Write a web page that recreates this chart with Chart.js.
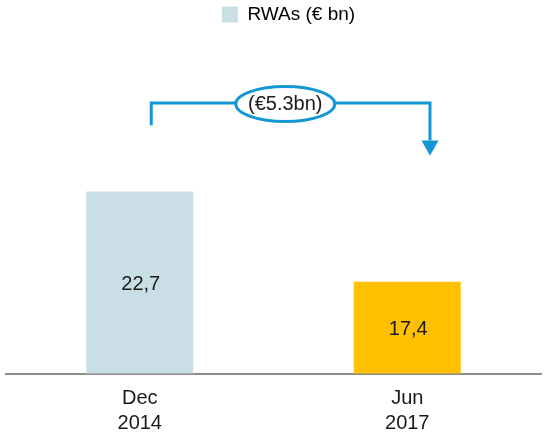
<!DOCTYPE html>
<html>
<head>
<meta charset="utf-8">
<script src="https://cdn.jsdelivr.net/npm/chart.js@4/dist/chart.umd.min.js"></script>
<style>
  html, body { margin: 0; padding: 0; background: #fff; }
  #wrap { width: 544px; height: 436px; }
</style>
</head>
<body>
<div id="wrap"><canvas id="rwaChart"></canvas></div>
<script>
const categories = [['Dec', '2014'], ['Jun', '2017']];
const rwaValues = [22.7, 17.4];
const valueLabels = ['22,7', '17,4'];
const seriesLabel = 'RWAs (€ bn)';
const changeLabel = '(€5.3bn)';

// bracket levels, in axis units (€ bn)
const bracketTop = 27.9;
const bracketLeftEnd = 26.6;
const arrowBase = 25.7;
const arrowTip = 24.8;

const BAR_COLORS = ['#cadee5', '#ffc000'];
const ARROW_BLUE = '#1398d3';
const FONT = "'Liberation Sans', Arial, sans-serif";

// value labels inside the bars
const barValues = {
  id: 'barValues',
  afterDatasetsDraw(chart) {
    const { ctx, chartArea } = chart;
    const meta = chart.getDatasetMeta(0);
    ctx.save();
    ctx.font = `20px ${FONT}`;
    ctx.fillStyle = '#1a1a1a';
    ctx.textAlign = 'center';
    ctx.textBaseline = 'middle';
    meta.data.forEach((bar, i) => {
      const base = Math.min(bar.base, chartArea.bottom);
      ctx.fillText(valueLabels[i], bar.x + 1, (bar.y + base) / 2 + 2);
    });
    ctx.restore();
  },
};

// the "(€5.3bn)" bracket with arrow
const changeBracket = {
  id: 'changeBracket',
  afterDraw(chart) {
    const { ctx } = chart;
    const x = chart.scales.x;
    const y = chart.scales.y;
    const xl = x.getPixelForValue(0.043);
    const xr = x.getPixelForValue(1.085);
    const xm = x.getPixelForValue(0.544);
    const yt = y.getPixelForValue(bracketTop);
    const yl = y.getPixelForValue(bracketLeftEnd);
    const yb = y.getPixelForValue(arrowBase);
    const yp = y.getPixelForValue(arrowTip);

    ctx.save();
    ctx.strokeStyle = ARROW_BLUE;
    ctx.fillStyle = ARROW_BLUE;
    ctx.lineWidth = 3;
    ctx.beginPath();
    ctx.moveTo(xl, yl);
    ctx.lineTo(xl, yt);
    ctx.lineTo(xr, yt);
    ctx.lineTo(xr, yb);
    ctx.stroke();

    ctx.beginPath();
    ctx.moveTo(xr - 8.5, yb);
    ctx.lineTo(xr + 8.5, yb);
    ctx.lineTo(xr, yp);
    ctx.closePath();
    ctx.fill();

    ctx.beginPath();
    ctx.ellipse(xm, yt + 1, 49.5, 17.5, 0, 0, Math.PI * 2);
    ctx.fillStyle = '#fff';
    ctx.fill();
    ctx.stroke();

    ctx.fillStyle = '#1a1a1a';
    ctx.font = `20px ${FONT}`;
    ctx.textAlign = 'center';
    ctx.textBaseline = 'middle';
    ctx.fillText(changeLabel, xm, yt + 1);
    ctx.restore();
  },
};

// nudge the legend a little to the right, as in the source slide
const legendNudge = {
  id: 'legendNudge',
  afterLayout(chart) {
    chart.legend.left += 30;
  },
};

const chart = new Chart(document.getElementById('rwaChart'), {
  type: 'bar',
  data: {
    labels: categories,
    datasets: [
      {
        label: seriesLabel,
        data: rwaValues,
        backgroundColor: BAR_COLORS,
        borderWidth: 0,
        barPercentage: 0.4,
        categoryPercentage: 1,
      },
    ],
  },
  options: {
    responsive: true,
    maintainAspectRatio: false,
    animation: false,
    layout: { padding: { left: 6, right: 3, top: 0, bottom: 0 } },
    scales: {
      x: {
        grid: { display: false, drawTicks: false },
        border: { display: true, color: '#8c8c8c', width: 2 },
        ticks: {
          color: '#1a1a1a',
          padding: 12,
          font: { family: FONT, size: 20, lineHeight: 1.25 },
        },
        afterFit: (scale) => { scale.height = 62.5; },
      },
      y: {
        display: false,
        min: 12,
        max: 31.96,
      },
    },
    plugins: {
      legend: {
        position: 'top',
        labels: {
          boxWidth: 16,
          boxHeight: 16,
          padding: 5,
          color: '#1a1a1a',
          font: { family: FONT, size: 19 },
          generateLabels: () => [
            {
              text: seriesLabel,
              fillStyle: BAR_COLORS[0],
              strokeStyle: BAR_COLORS[0],
              lineWidth: 0,
              hidden: false,
              datasetIndex: 0,
            },
          ],
        },
      },
      tooltip: { enabled: false },
    },
  },
  plugins: [barValues, changeBracket, legendNudge],
});
</script>
</body>
</html>
